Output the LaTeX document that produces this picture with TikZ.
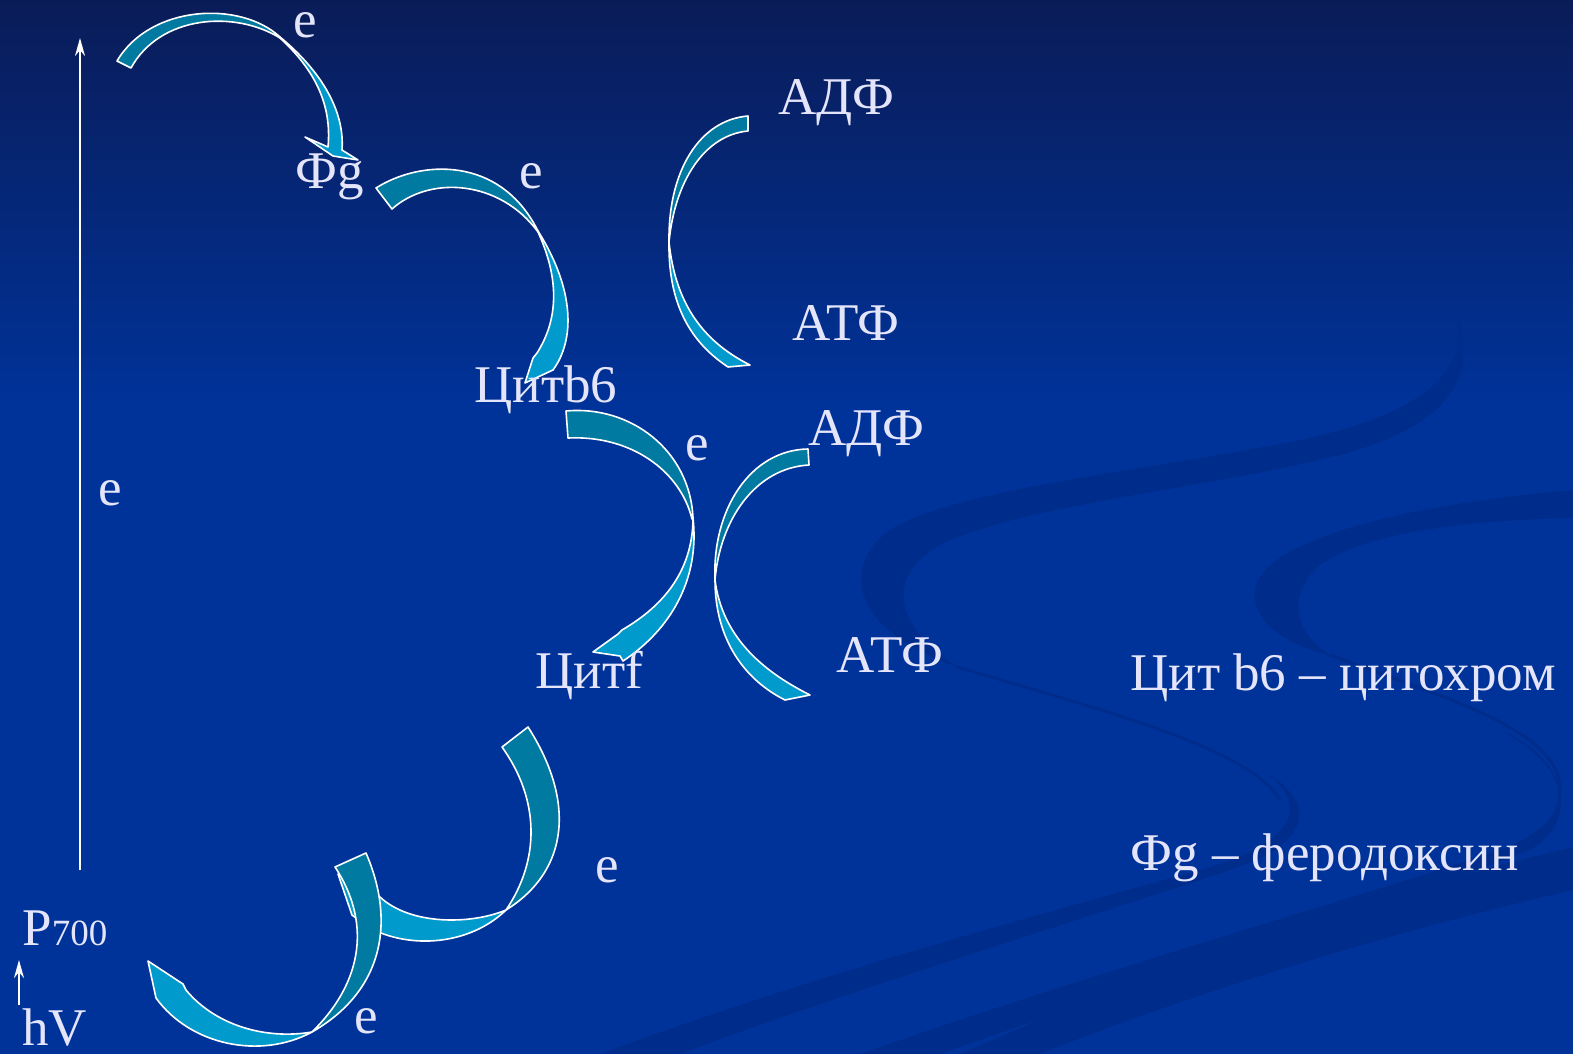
\documentclass[tikz,border=0pt]{standalone}
\usepackage{fontspec}
\setmainfont{Liberation Serif}
\usetikzlibrary{arrows.meta}
\definecolor{bgtop}{RGB}{10,28,88}
\definecolor{bgmid}{RGB}{0,50,152}
\definecolor{bgbot}{RGB}{0,51,153}
\definecolor{txt}{RGB}{228,228,250}
\definecolor{ribdark}{RGB}{0,122,160}
\definecolor{riblight}{RGB}{0,155,204}
\definecolor{swoosh}{RGB}{0,44,140}
\begin{document}
\begin{tikzpicture}[x=0.5pt,y=-0.5pt,
  lbl/.style={text=txt,font=\fontsize{26.5}{30}\selectfont,inner sep=0pt,anchor=base west},
  rdark/.style={fill=ribdark,draw=white,line width=0.8pt,line join=round},
  rlight/.style={fill=riblight,draw=white,line width=0.8pt,line join=round},
  sw/.style={draw=swoosh,line cap=round},
  swf/.style={fill=swoosh}]
% background
\fill[bgbot] (0,0) rectangle (1573,1054);
\shade[top color=bgtop,bottom color=bgmid] (0,0) rectangle (1573,400);
\useasboundingbox (0,0) rectangle (1573,1054);
% decorative swooshes
\fill[swf] (1448,293) .. controls (1480,360) and (1440,410) .. (1300,440)
  .. controls (1150,470) and (950,490) .. (890,530)
  .. controls (840,565) and (850,630) .. (957,667)
  .. controls (900,630) and (880,580) .. (940,545)
  .. controls (1020,505) and (1200,490) .. (1340,455)
  .. controls (1470,420) and (1480,360) .. (1448,293) -- cycle;
\draw[sw,line width=1.5pt] (957,667) .. controls (1120,715) and (1250,750) .. (1280,800);
\fill[swf] (1270,775) .. controls (1310,810) and (1290,845) .. (1200,870)
  .. controls (1000,925) and (800,980) .. (600,1054) -- (680,1054)
  .. controls (850,990) and (1050,930) .. (1230,870)
  .. controls (1320,840) and (1310,800) .. (1270,775) -- cycle;
\fill[swf] (1573,490) .. controls (1400,505) and (1270,540) .. (1256,585)
  .. controls (1245,625) and (1300,650) .. (1330,655)
  .. controls (1290,630) and (1290,590) .. (1320,565)
  .. controls (1370,530) and (1480,520) .. (1573,518) -- cycle;
\draw[sw,line width=1.5pt] (1330,655) .. controls (1450,700) and (1560,730) .. (1560,790);
\fill[swf] (1500,730) .. controls (1575,770) and (1580,820) .. (1500,850)
  .. controls (1350,900) and (1100,970) .. (860,1054) -- (940,1054)
  .. controls (1150,980) and (1400,900) .. (1530,850)
  .. controls (1580,820) and (1570,760) .. (1500,730) -- cycle;
\fill[swf] (1573,847) .. controls (1350,900) and (1150,970) .. (960,1054) -- (1040,1054)
  .. controls (1200,990) and (1400,930) .. (1573,890) -- cycle;
% vertical arrows
\coordinate (vb) at (80,870);
\coordinate (vt) at (80,38);
\draw[white,line width=1pt,-{Stealth[length=9pt,width=5pt]}] (vb) -- (vt);
\coordinate (hb) at (19,1005);
\coordinate (ht) at (19,960);
\draw[white,line width=1pt,-{Stealth[length=9pt,width=5pt]}] (hb) -- (ht);
% arrow 1 (top)
\filldraw[rlight] (280,37) .. controls (320,70) and (345,110) .. (342,150)
  -- (358,160) -- (333,156) -- (305,137) -- (328,147)
  .. controls (332,105) and (315,70) .. (280,38) -- cycle;
\filldraw[rdark] (117,61) .. controls (150,5) and (240,0) .. (280,37)
  -- (280,38) .. controls (235,10) and (160,15) .. (131,68) -- cycle;
% arrow 2
\filldraw[rlight] (538,231) .. controls (575,290) and (575,340) .. (553,370)
  -- (525,383) -- (533,358) -- (537,353)
  .. controls (558,320) and (560,280) .. (538,232) -- cycle;
\filldraw[rdark] (376,188) .. controls (420,160) and (500,155) .. (538,231)
  -- (538,232) .. controls (500,180) and (430,175) .. (392,209) -- cycle;
% arrow 3
\filldraw[rlight] (693,518) .. controls (700,580) and (670,630) .. (623,661)
  -- (620,656) -- (593,652) -- (618,634) -- (622,630)
  .. controls (665,605) and (692,570) .. (693,520) -- cycle;
\filldraw[rdark] (566,411) .. controls (630,405) and (690,450) .. (693,518)
  -- (692,519) .. controls (680,470) and (630,435) .. (568,438) -- cycle;
% arrow 4 (ADF -> ATF, upper)
\filldraw[rlight] (669,242) .. controls (668,310) and (695,345) .. (728,367)
  -- (750,365) .. controls (700,340) and (675,300) .. (669,242) -- cycle;
\filldraw[rdark] (748,116) .. controls (700,120) and (668,170) .. (669,242)
  .. controls (675,180) and (705,135) .. (748,131) -- cycle;
% arrow 5 (ADF -> ATF, lower)
\filldraw[rlight] (715,580) .. controls (715,640) and (745,680) .. (785,700)
  -- (810,695) .. controls (760,670) and (722,635) .. (715,580) -- cycle;
\filldraw[rdark] (808,449) .. controls (750,450) and (712,510) .. (715,580)
  .. controls (720,520) and (755,468) .. (809,465) -- cycle;
% arrow 6
\filldraw[rlight] (506,910) .. controls (470,945) and (410,950) .. (368,927)
  -- (352,915) -- (338,874) -- (372,895) -- (380,897)
  .. controls (410,925) and (470,925) .. (506,910) -- cycle;
\filldraw[rdark] (528,727) .. controls (575,800) and (570,870) .. (506,910)
  .. controls (540,860) and (540,800) .. (502,747) -- cycle;
% arrow 7
\filldraw[rlight] (312,1032) .. controls (260,1060) and (190,1045) .. (156,998)
  -- (148,961) -- (183,984) -- (186,990)
  .. controls (215,1025) and (265,1040) .. (312,1032) -- cycle;
\filldraw[rdark] (366,853) .. controls (395,920) and (385,990) .. (312,1032)
  .. controls (365,980) and (370,920) .. (335,867) -- cycle;
% labels
\node[lbl,anchor=base] (e1) at (305,38) {e};
\node[lbl] (fg) at (295,188) {Фg};
\node[lbl,anchor=base] (e2) at (531,188) {e};
\node[lbl] (adf1) at (778,115) {АДФ};
\node[lbl] (atf1) at (792,340) {АТФ};
\node[lbl] (citb6) at (474,402) {Цитb6};
\node[lbl,anchor=base] (e3) at (697,460) {e};
\node[lbl] (adf2) at (808,445) {АДФ};
\node[lbl] (citf) at (535,688) {Цитf};
\node[lbl] (atf2) at (836,672) {АТФ};
\node[lbl,anchor=base] (e4) at (110,505) {e};
\node[lbl,anchor=base] (e5) at (607,882) {e};
\node[lbl] (p700) at (22,945) {P{\fontsize{18.5}{20}\selectfont 700}};
\node[lbl] (hv) at (22,1045) {hV};
\node[lbl,anchor=base] (e6) at (366,1033) {e};
\node[lbl] (leg1) at (1130,690) {Цит b6 – цитохром};
\node[lbl] (leg2) at (1130,870) {Фg – феродоксин};
\end{tikzpicture}
\end{document}
